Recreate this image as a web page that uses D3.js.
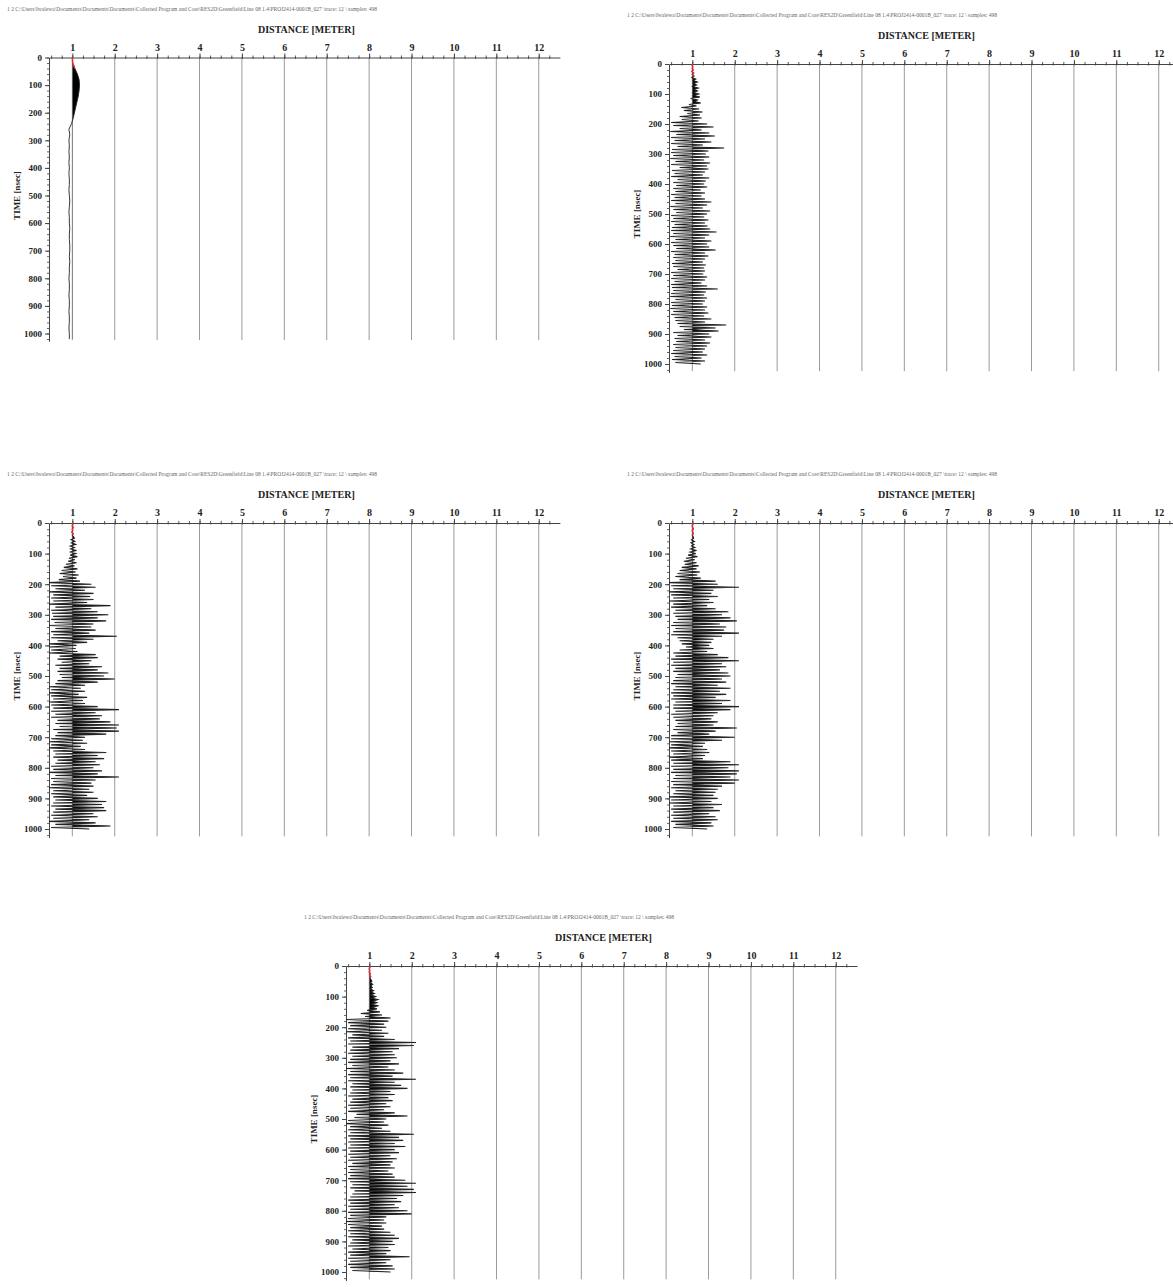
<!DOCTYPE html>
<html>
<head>
<meta charset="utf-8">
<script src="https://cdn.jsdelivr.net/npm/d3@7"></script>
<style>
  body { margin: 0; background: #fff; }
  svg { display: block; }
</style>
</head>
<body>
<div id="plot"></div>
<script>
const width = 1173
const height = 1287

// axis labels
const distanceTicks = [1, 2, 3, 4, 5, 6, 7, 8, 9, 10, 11, 12]
const timeTicks = [0, 100, 200, 300, 400, 500, 600, 700, 800, 900, 1000]
const xTitle = 'DISTANCE [METER]'
const yTitle = 'TIME [nsec]'
const headerText = '1 2 C:\\Users\\Iwalewa\\Documents\\Documents\\Documents\\Collected Program and Core\\RES2D\\Greenfield\\Line 08 1.4\\PROJ2414-0001B_027 \\trace: 12 \\ samples: 498'

// trace position (meter) and amplitude offsets
const tracePosition = 1

// panel 1, one sample every 20 nsec
const trace1 = [
  0, 0.01, 0.06, 0.12, 0.16, 0.17, 0.16, 0.14, 0.11, 0.08,
  0.05, 0.02, -0.02, -0.08, -0.06, -0.08, -0.07, -0.08, -0.07, -0.08,
  -0.07, -0.08, -0.07, -0.07, -0.08, -0.07, -0.06, -0.07, -0.08, -0.07,
  -0.07, -0.06, -0.07, -0.07, -0.06, -0.06, -0.07, -0.06, -0.07, -0.07,
  -0.08, -0.07, -0.07, -0.08, -0.07, -0.07, -0.08, -0.07, -0.07, -0.08,
  -0.07, -0.07
]

// panels 2-5, one sample every 5 nsec
const trace2 = [
  0, 0, 0.01, 0, 0.02, -0.01, 0.03, 0, 0.04, -0.01,
  0.08, 0.02, 0.12, 0.03, 0.1, 0.01, 0.14, 0.04, 0.12, 0.02,
  0.15, 0.03, 0.18, -0.04, 0.12, 0.05, 0.2, -0.08, 0.1, -0.26,
  0.16, -0.2, 0.24, -0.12, 0.18, -0.3, 0.22, -0.25, 0.15, -0.5,
  0.35, -0.45, 0.5, -0.3, 0.22, -0.52, 0.4, -0.38, 0.53, -0.5,
  0.3, -0.42, 0.45, -0.5, 0.25, -0.35, 0.75, -0.48, 0.38, -0.5,
  0.32, -0.45, 0.4, -0.52, 0.28, -0.4, 0.42, -0.5, 0.35, -0.3,
  0.38, -0.48, 0.3, -0.42, 0.25, -0.5, 0.4, -0.35, 0.32, -0.45,
  0.28, -0.38, 0.35, -0.45, 0.2, -0.4, 0.3, -0.5, 0.22, -0.42,
  0.3, -0.5, 0.45, -0.4, 0.35, -0.52, 0.25, -0.45, 0.42, -0.38,
  0.35, -0.5, 0.28, -0.45, 0.38, -0.5, 0.3, -0.42, 0.36, -0.48,
  0.42, -0.5, 0.57, -0.45, 0.4, -0.52, 0.3, -0.4, 0.45, -0.5,
  0.35, -0.45, 0.4, -0.38, 0.55, -0.5, 0.3, -0.42, 0.38, -0.45,
  0.3, -0.4, 0.25, -0.48, 0.32, -0.45, 0.28, -0.35, 0.3, -0.5,
  0.26, -0.45, 0.35, -0.5, 0.3, -0.42, 0.22, -0.5, 0.35, -0.48,
  0.6, -0.45, 0.32, -0.5, 0.28, -0.52, 0.35, -0.4, 0.3, -0.5,
  0.25, -0.48, 0.35, -0.52, 0.3, -0.45, 0.38, -0.5, 0.28, -0.42,
  0.45, -0.4, 0.3, -0.35, 0.8, -0.3, 0.55, -0.2, 0.62, -0.45,
  0.4, -0.35, 0.45, -0.42, 0.3, -0.38, 0.42, -0.45, 0.35, -0.4,
  0.3, -0.45, 0.25, -0.5, 0.35, -0.42, 0.22, -0.48, 0.3, -0.4,
  0.2
]

const trace3 = [
  0, 0.01, 0, 0.02, 0, 0.01, -0.01, 0.02, 0, 0.03,
  0.05, -0.03, 0.06, -0.02, 0.08, -0.05, 0.05, -0.04, 0.1, -0.06,
  0.08, -0.05, 0.12, -0.08, 0.06, -0.1, 0.1, -0.15, 0.05, -0.2,
  0.12, -0.25, 0.08, -0.3, 0.15, -0.22, 0.1, -0.32, 0.18, -0.55,
  0.45, -0.5, 0.55, -0.4, 0.3, -0.55, 0.5, -0.45, 0.42, -0.5,
  0.5, -0.45, 0.35, -0.55, 0.9, -0.4, 0.45, -0.5, 0.6, -0.48,
  0.85, -0.45, 0.6, -0.5, 0.8, -0.42, 0.5, -0.55, 0.45, -0.4,
  0.55, -0.5, 0.4, -0.45, 1.05, -0.5, 0.5, -0.35, 0.35, -0.55,
  0.1, -0.55, 0.08, -0.5, 0.12, -0.55, 0.55, -0.3, 0.6, -0.35,
  0.45, -0.25, 0.4, -0.4, 0.7, -0.3, 0.6, -0.35, 0.85, -0.3,
  0.75, -0.25, 1.0, -0.35, 0.6, -0.4, 0.3, -0.55, 0.2, -0.5,
  0.3, -0.55, 0.15, -0.5, 0.35, -0.45, 0.25, -0.55, 0.3, -0.5,
  0.6, -0.45, 1.1, -0.5, 0.55, -0.4, 0.7, -0.5, 0.65, -0.35,
  0.9, -0.4, 1.1, -0.3, 1.05, -0.45, 1.1, -0.35, 0.8, -0.4,
  0.3, -0.5, 0.25, -0.55, 0.35, -0.5, 0.2, -0.55, 0.3, -0.45,
  0.8, -0.4, 0.6, -0.45, 0.75, -0.35, 0.55, -0.4, 0.65, -0.5,
  0.5, -0.45, 0.7, -0.55, 0.6, -0.4, 1.1, -0.5, 0.55, -0.45,
  0.45, -0.5, 0.5, -0.55, 0.4, -0.45, 0.5, -0.5, 0.35, -0.45,
  0.6, -0.4, 0.8, -0.45, 0.7, -0.5, 0.75, -0.4, 0.8, -0.45,
  0.5, -0.5, 0.6, -0.45, 0.4, -0.55, 0.55, -0.4, 0.9, -0.5,
  0.4
]

const trace4 = [
  0, 0.01, 0, 0.01, 0.02, 0, 0.01, 0.02, 0, 0.02,
  0.03, -0.02, 0.05, -0.03, 0.04, -0.02, 0.06, -0.04, 0.1, -0.05,
  0.08, -0.1, 0.12, -0.15, 0.06, -0.2, 0.1, -0.18, 0.15, -0.25,
  0.1, -0.3, 0.18, -0.35, 0.12, -0.4, 0.2, -0.3, 0.55, -0.55,
  0.6, -0.5, 1.1, -0.45, 0.5, -0.55, 0.45, -0.5, 0.6, -0.45,
  0.4, -0.55, 0.5, -0.45, 0.35, -0.5, 0.55, -0.4, 0.85, -0.45,
  0.7, -0.4, 0.9, -0.35, 1.05, -0.45, 0.65, -0.5, 0.8, -0.4,
  0.75, -0.45, 1.1, -0.5, 0.7, -0.35, 0.5, -0.3, 0.45, -0.25,
  0.4, -0.15, 0.5, -0.3, 0.35, -0.45, 0.6, -0.4, 0.85, -0.5,
  1.1, -0.45, 0.7, -0.5, 0.8, -0.4, 0.65, -0.45, 0.85, -0.35,
  0.9, -0.4, 0.7, -0.45, 0.8, -0.5, 0.6, -0.4, 0.9, -0.45,
  0.65, -0.5, 0.8, -0.45, 0.55, -0.5, 0.9, -0.4, 0.7, -0.45,
  1.1, -0.45, 0.9, -0.4, 0.6, -0.5, 0.5, -0.45, 0.45, -0.4,
  0.6, -0.35, 0.5, -0.4, 1.05, -0.45, 0.55, -0.35, 0.4, -0.5,
  1.0, -0.5, 0.7, -0.55, 0.3, -0.5, 0.25, -0.55, 0.35, -0.5,
  0.4, -0.45, 0.3, -0.55, 0.25, -0.5, 0.9, -0.45, 1.1, -0.5,
  0.85, -0.45, 1.1, -0.5, 1.05, -0.4, 0.9, -0.45, 1.1, -0.5,
  1.0, -0.45, 0.7, -0.5, 0.6, -0.4, 0.55, -0.45, 0.5, -0.55,
  0.6, -0.5, 0.45, -0.55, 0.7, -0.45, 0.5, -0.5, 0.65, -0.45,
  0.4, -0.5, 0.55, -0.45, 0.6, -0.5, 0.45, -0.4, 0.5, -0.45,
  0.35
]

const trace5 = [
  0, 0.01, 0, 0.01, 0, 0.02, 0.01, 0.03, 0.02, 0.04,
  0.06, 0.02, 0.08, 0.03, 0.07, 0.02, 0.1, 0.04, 0.12, 0.03,
  0.15, 0.05, 0.2, 0.08, 0.18, 0.04, 0.22, 0.06, 0.18, -0.05,
  0.25, -0.2, 0.3, -0.1, 0.5, -0.55, 0.45, -0.5, 0.35, -0.45,
  0.4, -0.5, 0.3, -0.55, 0.45, -0.4, 0.35, -0.5, 0.6, -0.45,
  1.1, -0.5, 1.05, -0.4, 0.7, -0.45, 0.55, -0.5, 0.6, -0.4,
  0.65, -0.45, 0.5, -0.5, 0.7, -0.4, 0.45, -0.55, 0.6, -0.45,
  0.8, -0.5, 0.55, -0.45, 1.1, -0.5, 0.6, -0.4, 0.75, -0.45,
  0.9, -0.4, 0.5, -0.45, 0.6, -0.5, 0.45, -0.4, 0.55, -0.45,
  0.4, -0.5, 0.5, -0.45, 0.35, -0.5, 0.6, -0.3, 0.9, -0.35,
  0.4, -0.5, 0.35, -0.55, 0.45, -0.45, 0.3, -0.5, 0.5, -0.45,
  1.05, -0.5, 0.7, -0.45, 0.8, -0.5, 0.6, -0.45, 0.85, -0.5,
  0.6, -0.45, 0.7, -0.5, 0.5, -0.45, 0.65, -0.5, 0.55, -0.4,
  0.5, -0.5, 0.6, -0.45, 0.45, -0.5, 0.55, -0.45, 0.6, -0.5,
  0.85, -0.45, 1.1, -0.4, 0.9, -0.45, 1.05, -0.35, 1.1, -0.4,
  0.8, -0.45, 0.65, -0.5, 0.75, -0.45, 0.6, -0.5, 0.7, -0.45,
  0.9, -0.5, 1.0, -0.45, 0.4, -0.5, 0.35, -0.55, 0.4, -0.5,
  0.3, -0.45, 0.35, -0.5, 0.5, -0.45, 0.6, -0.5, 0.7, -0.4,
  0.55, -0.45, 0.6, -0.5, 0.45, -0.4, 0.5, -0.5, 0.4, -0.45,
  0.95, -0.5, 0.5, -0.45, 0.4, -0.5, 0.55, -0.45, 0.6, -0.4,
  0.5
]

// layout of the five panels (left axis x, top axis y, pixels per 1000 nsec)
const panels = [
  {trace: trace1, step: 20, x0: 49, top: 57.5, h: 276},
  {trace: trace2, step: 5, x0: 669, top: 64, h: 300},
  {trace: trace3, step: 5, x0: 49, top: 523, h: 306},
  {trace: trace4, step: 5, x0: 669, top: 523, h: 306},
  {trace: trace5, step: 5, x0: 346, top: 966, h: 306}
]

const pxPerMeter = 42.4
const font = '"Liberation Serif", "Times New Roman", serif'

const svg = d3.select('div#plot').append('svg')
    .attr('width', width)
    .attr('height', height)
    .attr('viewBox', [0, 0, width, height])
    .style('font-family', font)

function drawPanel(p, idx) {
    const xScale = d3.scaleLinear()
        .domain([0.45, 12.5])
        .range([p.x0, p.x0 + 12.05 * pxPerMeter])
    const yScale = d3.scaleLinear()
        .domain([0, 1000])
        .range([p.top, p.top + p.h])
    const tMax = 1028

    const g = svg.append('g')

    // header path line
    g.append('text')
        .attr('x', p.x0 - 42)
        .attr('y', p.top - 48)
        .attr('font-size', 5.5)
        .attr('fill', '#666')
        .attr('textLength', 370)
        .attr('lengthAdjust', 'spacingAndGlyphs')
        .attr('dominant-baseline', 'middle')
        .text(headerText)

    // title
    g.append('text')
        .attr('x', xScale(6.52))
        .attr('y', p.top - 27)
        .attr('text-anchor', 'middle')
        .attr('dominant-baseline', 'middle')
        .attr('font-size', 10)
        .attr('font-weight', 'bold')
        .attr('fill', '#222')
        .text(xTitle)

    // vertical grid lines
    g.append('g').selectAll('line')
        .data(distanceTicks)
        .join('line')
        .attr('x1', d => xScale(d))
        .attr('x2', d => xScale(d))
        .attr('y1', p.top)
        .attr('y2', yScale(tMax - 4))
        .attr('stroke', '#9a9a9a')
        .attr('stroke-width', 1)

    // minor ticks on top axis
    g.append('g')
        .attr('transform', 'translate(0,' + p.top + ')')
        .call(d3.axisTop(xScale).tickValues(d3.range(0.5, 12.5, 0.25)).tickSize(2).tickFormat(''))
        .call(a => a.select('.domain').remove())
        .call(a => a.selectAll('.tick line').attr('stroke', '#555').attr('y1', 1.5))

    // top axis
    g.append('g')
        .attr('transform', 'translate(0,' + p.top + ')')
        .call(d3.axisTop(xScale).tickValues(distanceTicks).tickSize(4).tickSizeOuter(0).tickPadding(3))
        .call(a => a.select('.domain').attr('stroke', '#444'))
        .call(a => a.selectAll('.tick line').attr('stroke', '#444'))
        .call(a => a.selectAll('text')
            .attr('font-family', font)
            .attr('font-size', 10)
            .attr('font-weight', 'bold')
            .attr('fill', '#222'))

    // left axis minor ticks
    const yLeft = d3.scaleLinear().domain([0, tMax]).range([p.top, yScale(tMax)])
    g.append('g')
        .attr('transform', 'translate(' + p.x0 + ',0)')
        .call(d3.axisLeft(yLeft).tickValues(d3.range(0, 1021, 20)).tickSize(2).tickFormat(''))
        .call(a => a.select('.domain').remove())
        .call(a => a.selectAll('.tick line').attr('stroke', '#666'))

    // left axis
    g.append('g')
        .attr('transform', 'translate(' + p.x0 + ',0)')
        .call(d3.axisLeft(yLeft).tickValues(timeTicks).tickFormat(d3.format('d'))
            .tickSize(4).tickSizeOuter(0).tickPadding(3))
        .call(a => a.select('.domain').attr('stroke', '#444'))
        .call(a => a.selectAll('.tick line').attr('stroke', '#444'))
        .call(a => a.selectAll('text')
            .attr('font-family', font)
            .attr('font-size', 9)
            .attr('font-weight', 'bold')
            .attr('fill', '#222'))

    // y title
    g.append('text')
        .attr('transform', 'translate(' + (p.x0 - 31) + ',' + yScale(500) + ') rotate(-90)')
        .attr('text-anchor', 'middle')
        .attr('dominant-baseline', 'middle')
        .attr('font-size', 9)
        .attr('font-weight', 'bold')
        .attr('fill', '#222')
        .text(yTitle)

    // trace
    const points = p.trace.map((v, i) => ({t: i * p.step, v: v}))
    const base = xScale(tracePosition)

    const clipId = 'pos' + idx
    svg.append('clipPath')
        .attr('id', clipId)
        .append('rect')
        .attr('x', base)
        .attr('y', p.top)
        .attr('width', 200)
        .attr('height', p.h + 40)

    const area = d3.area()
        .x0(base)
        .x1(d => xScale(tracePosition + d.v))
        .y(d => yScale(d.t))

    const line = d3.line()
        .x(d => xScale(tracePosition + d.v))
        .y(d => yScale(d.t))

    g.append('path')
        .datum(points)
        .attr('d', area)
        .attr('clip-path', 'url(#' + clipId + ')')
        .attr('fill', '#000')

    g.append('path')
        .datum(points)
        .attr('d', line)
        .attr('fill', 'none')
        .attr('stroke', '#222')
        .attr('stroke-width', p.step > 5 ? 0.9 : 1.1)

    // first break marked in red
    g.append('path')
        .datum(points.filter(d => d.t <= 40))
        .attr('d', line)
        .attr('fill', 'none')
        .attr('stroke', '#ee3344')
        .attr('stroke-width', 1.6)
        .attr('stroke-opacity', 0.85)
}

panels.forEach(drawPanel)
</script>
</body>
</html>
